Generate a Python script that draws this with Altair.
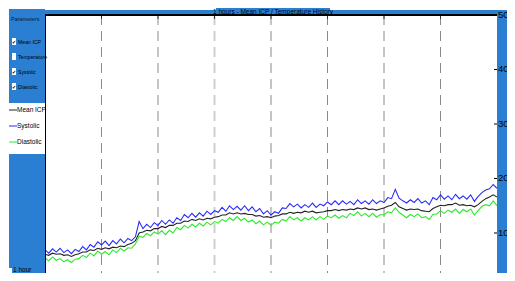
import altair as alt
import pandas as pd

# ---------------- data ----------------
minutes = [i * 0.5 for i in range(121)]  # sample times over the 1-hour window

systolic = [
    6.9, 6.3, 7.1, 6.5, 7.2, 6.4, 6.9, 6.2, 7.0, 6.6,
    7.5, 6.9, 7.9, 7.4, 8.4, 7.8, 8.5, 7.7, 8.6, 8.0,
    8.9, 8.2, 9.0, 8.6, 9.3, 12.1, 10.8, 11.6, 11.0, 11.9,
    11.4, 12.3, 11.6, 12.4, 11.8, 12.8, 12.3, 13.4, 12.8, 13.6,
    12.9, 13.7, 13.1, 14.0, 13.4, 14.1, 13.8, 14.7, 14.0, 15.0,
    14.3, 14.9, 14.2, 15.0, 14.1, 14.8, 13.9, 14.5, 13.5, 14.1,
    13.3, 13.9, 13.6, 14.6, 14.5, 15.4, 14.8, 15.3, 14.6, 15.2,
    14.7, 15.5, 14.7, 15.3, 15.0, 15.7, 15.2, 15.9, 15.2, 15.9,
    15.3, 15.8, 15.2, 16.1, 15.4, 15.9, 15.3, 16.1, 15.4, 15.9,
    15.6, 16.5, 16.3, 18.0, 16.4, 15.9, 15.5, 16.1, 15.6, 16.3,
    15.5, 15.9, 15.2, 16.5, 16.1, 17.0, 16.2, 16.8, 16.1, 17.1,
    16.3, 16.8, 16.2, 17.0, 15.8, 16.7, 17.4, 17.9, 18.1, 18.9,
    18.2,
]

mean_icp = [
    6.1, 5.9, 6.3, 6.1, 6.2, 5.9, 6.0, 5.7, 6.0, 6.2,
    6.5, 6.5, 6.9, 6.8, 7.2, 7.0, 7.3, 7.1, 7.4, 7.3,
    7.6, 7.5, 7.9, 8.1, 8.6, 10.0, 10.2, 10.5, 10.4, 10.8,
    10.8, 11.2, 11.0, 11.4, 11.4, 11.8, 11.8, 12.2, 12.1, 12.5,
    12.3, 12.6, 12.4, 12.7, 12.6, 12.9, 13.0, 13.3, 13.3, 13.7,
    13.5, 13.7, 13.5, 13.6, 13.4, 13.4, 13.1, 13.2, 12.9, 13.0,
    12.8, 13.1, 13.2, 13.5, 13.5, 13.8, 13.6, 13.8, 13.7, 14.0,
    13.8, 14.0, 13.7, 13.8, 13.9, 14.1, 14.1, 14.3, 14.1, 14.3,
    14.2, 14.4, 14.3, 14.6, 14.4, 14.6, 14.3, 14.4, 14.2, 14.4,
    14.6, 14.9, 15.1, 15.6, 14.8, 14.5, 14.2, 14.4, 14.3, 14.4,
    14.1, 14.0, 13.9, 14.5, 14.8, 15.1, 15.0, 15.2, 15.2, 15.5,
    15.1, 15.2, 15.0, 15.1, 14.8, 15.2, 15.8, 16.3, 16.6, 17.0,
    16.6,
]

diastolic = [
    5.4, 4.9, 5.6, 5.0, 5.3, 4.7, 5.1, 4.6, 5.2, 5.3,
    5.9, 5.5, 6.3, 5.8, 6.7, 6.1, 6.6, 6.0, 6.9, 6.4,
    7.2, 6.7, 7.3, 7.2, 8.0, 9.4, 9.2, 9.9, 9.5, 10.2,
    9.8, 10.4, 9.7, 10.5, 10.0, 11.0, 10.6, 11.4, 10.9, 11.6,
    11.1, 11.8, 11.3, 12.0, 11.5, 12.1, 11.8, 12.5, 12.1, 12.8,
    12.3, 13.0, 12.3, 12.7, 12.0, 12.4, 11.7, 12.2, 11.5, 12.0,
    11.4, 12.0, 11.8, 12.5, 12.2, 13.0, 12.4, 12.8, 12.2, 12.8,
    12.4, 13.0, 12.4, 13.0, 12.5, 13.1, 12.8, 13.3, 12.7, 13.2,
    12.8, 13.6, 13.2, 13.9, 13.1, 13.6, 13.0, 13.6, 12.9, 13.4,
    13.3, 13.9, 13.7, 14.6, 13.8, 13.3, 12.8, 13.4, 13.0, 13.5,
    12.8, 13.0, 12.5, 13.4, 13.5, 14.1, 13.6, 14.2, 13.8, 14.4,
    13.6, 14.3, 13.9, 14.4, 13.3, 14.1, 14.9, 15.2, 15.0, 15.9,
    15.0,
]

series_names = ["Mean ICP", "Systolic", "Diastolic"]
series_colors = ["#222222", "#2a2aff", "#2ee82e"]
grid_minutes = [7.5, 15, 22.5, 30, 37.5, 45, 52.5]
y_ticks = [10, 20, 30, 40, 50]
y_tick_labels = ["10 mm", "20 mm", "30 mm", "40 mm", "50 mm"]
param_labels = ["Mean ICP", "Temperature", "Systolic", "Diastolic"]
param_checked = [True, False, True, True]
title_text = "1 hours - Mean ICP / Temperature History"

# ---------------- layout ----------------
W, H = 452, 258
BLUE = "#2a7fd2"
FONT = "Liberation Sans Narrow, Arial Narrow, Liberation Sans, sans-serif"

df = pd.DataFrame({
    "t": minutes * 3,
    "value": mean_icp + systolic + diastolic,
    "series": ["Mean ICP"] * 121 + ["Systolic"] * 121 + ["Diastolic"] * 121,
})
one = pd.DataFrame({"a": [0]})
grid_df = pd.DataFrame({"t": grid_minutes})
ytick_df = pd.DataFrame({"value": y_ticks, "label": y_tick_labels})

xs = alt.Scale(domain=[0, 60], nice=False, zero=False)
ys = alt.Scale(domain=[2.66, 50], nice=False, zero=False)


def box(x1, x2, y1, y2, color):
    return alt.Chart(one).mark_rect(color=color).encode(
        x=alt.value(x1), x2=alt.value(x2), y=alt.value(y1), y2=alt.value(y2))


def txt(s, x, y, size=8, color="black", align="left", baseline="middle"):
    return alt.Chart(one).mark_text(
        text=s, align=align, baseline=baseline, font=FONT, fontSize=size, color=color
    ).encode(x=alt.value(x), y=alt.value(y))


def hline(x1, x2, y, color, width=1):
    return alt.Chart(one).mark_rule(color=color, strokeWidth=width).encode(
        x=alt.value(x1), x2=alt.value(x2), y=alt.value(y))


layers = []
# panels
layers.append(box(-36, 0, -6, H, BLUE))          # left panel
layers.append(box(0, W, -5, -1, BLUE))           # top strip
layers.append(box(171, 285, -9, -1, BLUE))       # title box
layers.append(box(W, W + 20, -5, H, BLUE))       # right panel

# grid
grid = alt.Chart(grid_df).transform_filter("datum.t != 22.5").mark_rule(
    strokeDash=[10, 6], color="#8a8a8a", strokeWidth=1
).encode(x=alt.X("t:Q", scale=xs, axis=None), y=alt.value(0), y2=alt.value(H))
grid_light = alt.Chart(grid_df).transform_filter("datum.t == 22.5").mark_rule(
    strokeDash=[10, 6], color="#cfcfcf", strokeWidth=2
).encode(x=alt.X("t:Q", scale=xs, axis=None), y=alt.value(0), y2=alt.value(H))
top_ticks = alt.Chart(grid_df).mark_rule(color="#333333").encode(
    x=alt.X("t:Q", scale=xs, axis=None), y=alt.value(1), y2=alt.value(4))
layers += [grid, grid_light, top_ticks]

# series
lines = alt.Chart(df).mark_line(strokeWidth=1.1, clip=True).encode(
    x=alt.X("t:Q", scale=xs, axis=None),
    y=alt.Y("value:Q", scale=ys, axis=None),
    color=alt.Color("series:N", scale=alt.Scale(domain=series_names, range=series_colors), legend=None),
    order=alt.Order("t:Q"),
)
layers.append(lines)

# right ticks and labels
rticks = alt.Chart(ytick_df).mark_rule(color="black").encode(
    y=alt.Y("value:Q", scale=ys, axis=None), x=alt.value(W - 3), x2=alt.value(W))
rlabels = alt.Chart(ytick_df).mark_text(
    align="left", baseline="middle", font=FONT, fontSize=9.5, color="black"
).encode(y=alt.Y("value:Q", scale=ys, axis=None), x=alt.value(W + 1), text="label:N")
layers += [rticks, rlabels]

# borders
layers.append(hline(0, W, 0, "black", 2))
layers.append(alt.Chart(one).mark_rule(color="black").encode(
    x=alt.value(0.5), y=alt.value(0), y2=alt.value(H)))

# title
layers.append(txt(title_text, 228, -3, size=6.5, align="center"))

# left panel contents
layers.append(txt("Parameters", -34, 4, size=5.5, color="#0a1a40"))
for i, (lab, chk) in enumerate(zip(param_labels, param_checked)):
    yc = 27 + i * 15
    layers.append(box(-33, -29, yc - 4, yc + 3, "white"))
    if chk:
        layers.append(txt("\u2714", -31, yc, size=5, align="center"))
    layers.append(txt(lab, -27, yc, size=5.2))

# legend box
layers.append(box(-36, 0, 88, 139, "white"))
for i, (nm, col) in enumerate(zip(series_names, series_colors)):
    yc = 95 + i * 16
    layers.append(hline(-36, -28, yc, col, 1))
    layers.append(txt(nm, -28, yc, size=6.5))

# bottom-left
layers.append(box(-36, -33, 253, 258, "white"))
layers.append(txt("1 hour", -32, 258, size=6.5, baseline="bottom"))

chart = alt.layer(*layers).properties(
    width=W, height=H,
    padding={"left": 37, "top": 7, "right": 499 - 37 - W, "bottom": 0},
    autosize=alt.AutoSizeParams(type="none"),
    background="white",
).configure_view(stroke=None)

chart.save("out.html", embed_options={"renderer": "svg", "actions": False})
